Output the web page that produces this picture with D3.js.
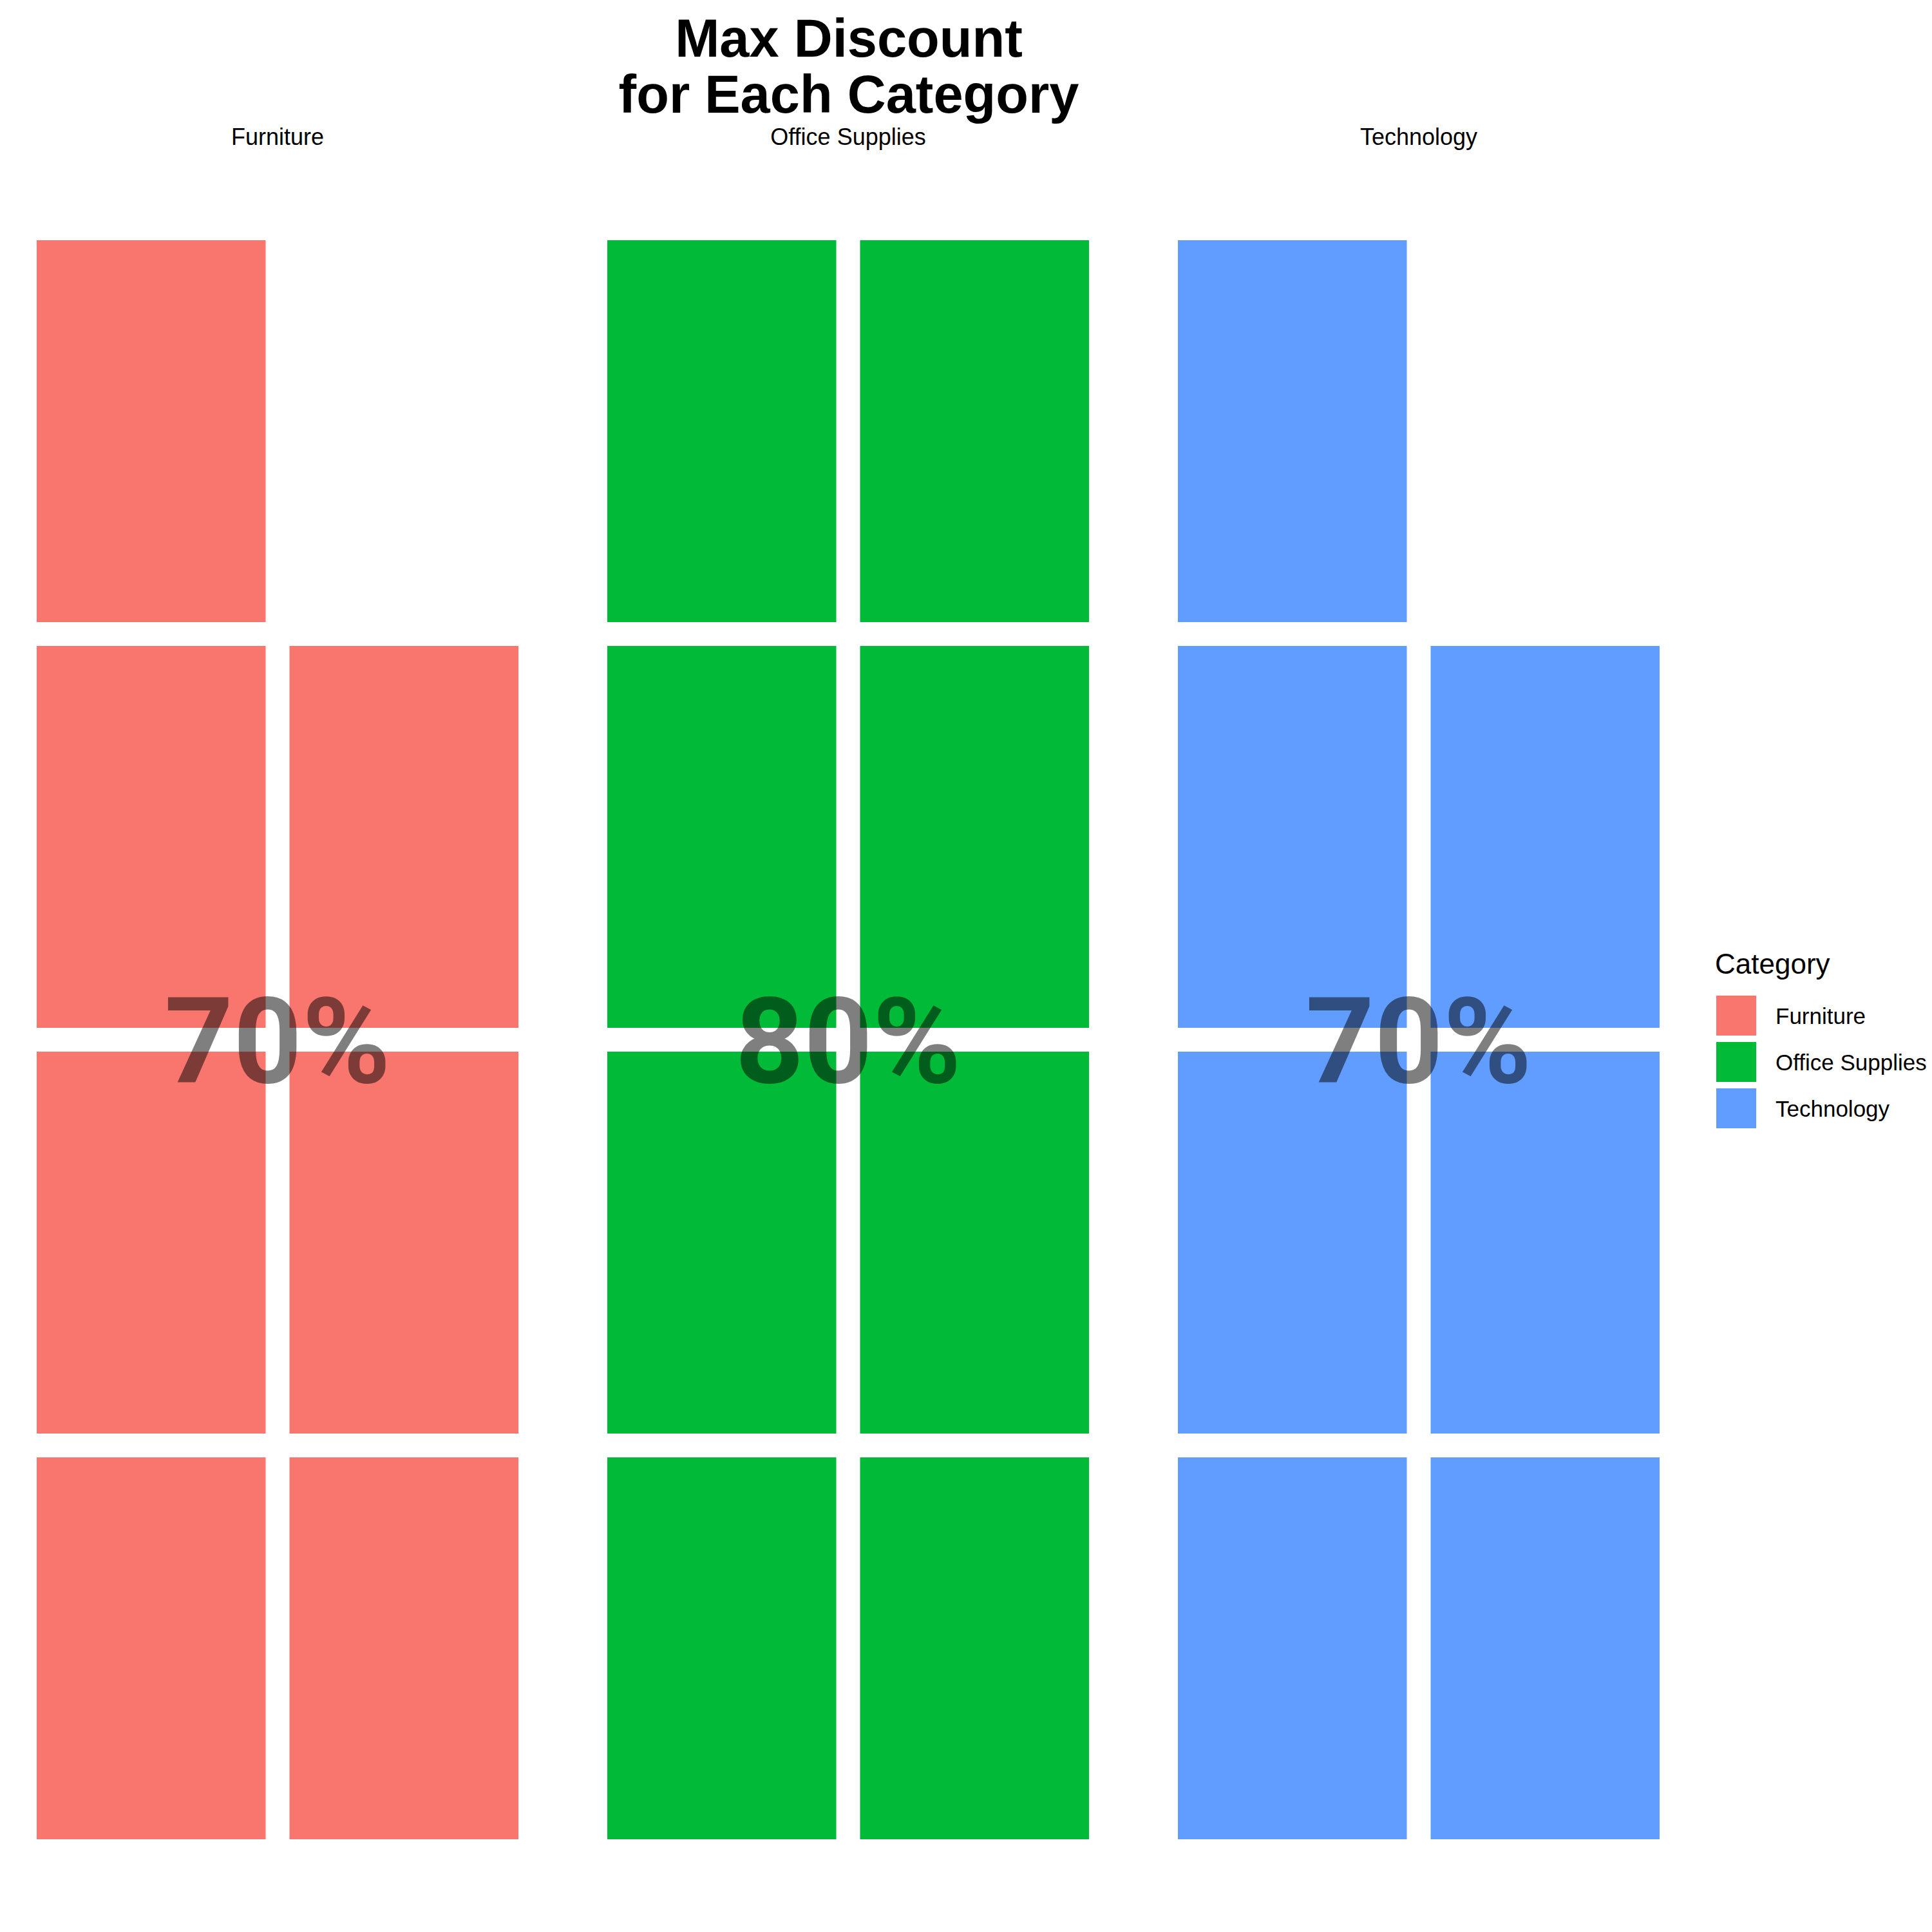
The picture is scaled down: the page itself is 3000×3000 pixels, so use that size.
<!DOCTYPE html>
<html>
<head>
<meta charset="utf-8">
<script src="https://cdn.jsdelivr.net/npm/d3@7"></script>
<style>
  html, body { margin: 0; padding: 0; background: #ffffff; }
  svg { display: block; }
</style>
</head>
<body>
<script>
// ---- data ----
const categories = ["Furniture", "Office Supplies", "Technology"];
const maxDiscount = [0.7, 0.8, 0.7];
const colors = ["#F8766D", "#00BA38", "#619CFF"];
const titleLines = ["Max Discount", "for Each Category"];
const legendTitle = "Category";

// ---- layout ----
const W = 3000, H = 3000;
const nCols = 2, nRows = 4, tilesPerPct = 10;
const gap = 37;

const svg = d3.select("body").append("svg")
  .attr("width", W).attr("height", H)
  .style("font-family", "'Liberation Sans', Arial, sans-serif");

svg.append("rect").attr("width", W).attr("height", H).attr("fill", "#fff");

const panelX = d3.scaleBand().domain(categories).range([38.5, 2595.5]).paddingInner(0.114);
const colX = d3.scaleBand().domain(d3.range(nCols)).range([0, panelX.bandwidth()]);
const rowY = d3.scaleBand().domain(d3.range(nRows).reverse()).range([354.5, 2874.5]);
const color = d3.scaleOrdinal().domain(categories).range(colors);
const pct = d3.format(".0%");

const data = categories.map((c, i) => ({ cat: c, value: maxDiscount[i] }));

// title
svg.append("text")
  .attr("x", 1318).attr("y", 88)
  .attr("text-anchor", "middle")
  .style("font-weight", "bold").style("font-size", "83px")
  .selectAll("tspan").data(titleLines).join("tspan")
  .attr("x", 1318).attr("dy", (d, i) => i === 0 ? 0 : 87)
  .text(d => d);

const panels = svg.selectAll("g.panel").data(data).join("g")
  .attr("class", "panel")
  .attr("transform", d => `translate(${panelX(d.cat)},0)`);

// strip labels
panels.append("text")
  .attr("x", panelX.bandwidth() / 2).attr("y", 225)
  .attr("text-anchor", "middle")
  .style("font-size", "36px")
  .text(d => d.cat);

// tiles
panels.each(function(d) {
  const n = Math.round(d.value * tilesPerPct);
  const tiles = d3.range(n).map(i => ({ col: i % nCols, row: Math.floor(i / nCols), cat: d.cat }));
  d3.select(this).selectAll("rect.tile").data(tiles).join("rect")
    .attr("class", "tile")
    .attr("x", t => colX(t.col) + gap / 2)
    .attr("y", t => rowY(t.row) + gap / 2)
    .attr("width", colX.bandwidth() - gap)
    .attr("height", rowY.bandwidth() - gap)
    .attr("fill", t => color(t.cat));
});

// big value labels
const yMid = (rowY.range()[0] + rowY.range()[1]) / 2;
panels.append("text")
  .attr("x", panelX.bandwidth() / 2).attr("y", yMid)
  .attr("dy", "0.36em")
  .attr("text-anchor", "middle")
  .style("font-family", "Roboto, 'Liberation Sans', sans-serif")
  .style("font-weight", "bold").style("font-size", "186px")
  .attr("fill", "#000").attr("fill-opacity", 0.5)
  .text(d => pct(d.value));

// legend
const lg = svg.append("g").attr("transform", "translate(2663,0)");
lg.append("text").attr("x", 0).attr("y", 1512)
  .style("font-size", "44px").text(legendTitle);
const keyY = d3.scaleBand().domain(categories).range([1541, 1757]);
const items = lg.selectAll("g.item").data(categories).join("g")
  .attr("class", "item")
  .attr("transform", c => `translate(0,${keyY(c)})`);
items.append("rect")
  .attr("x", 2).attr("y", 5).attr("width", 62).attr("height", 62)
  .attr("fill", c => color(c));
items.append("text")
  .attr("x", 94).attr("y", 36).attr("dy", "0.36em")
  .style("font-size", "35px").text(c => c);
</script>
</body>
</html>
